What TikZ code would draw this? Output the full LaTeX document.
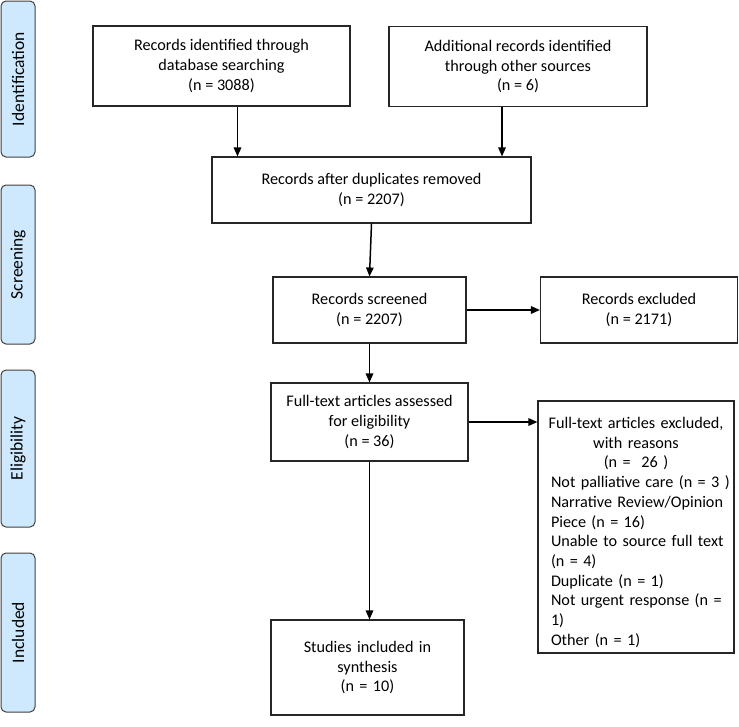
\documentclass[tikz,border=0pt]{standalone}
\usepackage{fontspec}
\setmainfont{Carlito}
\usetikzlibrary{arrows.meta}
\definecolor{sideblue}{RGB}{206,233,253}
\newcommand{\cenline}[1]{\makebox[\linewidth][c]{#1}}
\newcommand{\lefline}[1]{\makebox[\linewidth][l]{#1}}
\begin{document}
\begin{tikzpicture}[x=1pt,y=-1pt,
 box/.style={draw=black!85, line width=1.1pt, fill=white, align=center, font=\fontsize{16.2}{19.7}\selectfont, inner sep=0pt},
 side/.style={draw=black!75, line width=1pt, fill=sideblue, rounded corners=5pt, rotate=90, font=\fontsize{17.5}{20}\selectfont, inner sep=0pt},
 arr/.style={line width=1.5pt, -{Triangle[length=9pt,width=7.5pt]}}]
\useasboundingbox (0,0) rectangle (739,726);
% side labels
\node[side, minimum width=156pt, minimum height=34pt] (s1) at (18,79) {Identification};
\node[side, minimum width=159pt, minimum height=34pt] (s2) at (18,264.5) {Screening};
\node[side, minimum width=157pt, minimum height=34pt] (s3) at (18,448.5) {Eligibility};
\node[side, minimum width=159pt, minimum height=34pt] (s4) at (18,632.5) {Included};
% boxes
\node[box, minimum width=257pt, minimum height=80pt] (b1) at (221.5,66) {Records identified through\\database searching\\(n = 3088)};
\node[box, minimum width=258pt, minimum height=80pt] (b2) at (518,66.5) {Additional records identified\\through other sources\\(n = 6)};
\node[box, minimum width=319pt, minimum height=66pt] (b3) at (371.5,190) {Records after duplicates removed\\(n = 2207)};
\node[box, minimum width=193pt, minimum height=66pt] (b4) at (369.5,310) {Records screened\\(n = 2207)};
\node[box, minimum width=197pt, minimum height=66pt] (b5) at (639,310) {Records excluded\\(n = 2171)};
\node[box, minimum width=197pt, minimum height=78pt] (b6) at (369.5,422) {Full-text articles assessed\\for eligibility\\(n = 36)};
\node[box, minimum width=196pt, minimum height=252pt, text width=170pt, align=left] (b7) at (636,527) {\cenline{\rule{0pt}{22pt}Full-text articles excluded,}\\\cenline{with reasons}\\\cenline{(n =\ \ 26 )}\\\lefline{Not palliative care (n = 3 )}\\\lefline{Narrative Review/Opinion}\\\lefline{Piece (n = 16)}\\\lefline{Unable to source full text}\\\lefline{(n = 4)}\\\lefline{Duplicate (n = 1)}\\\lefline{Not urgent response (n =}\\\lefline{1)}\\\lefline{Other (n = 1)}};
\node[box, minimum width=193pt, minimum height=95pt, text width=180pt, align=center] (b8) at (367.5,667.5) {Studies included in\\synthesis\\(n = 10)\par\vspace{8pt}};
% arrows
\draw[arr] ([xshift=16pt]b1.south) -- ([xshift=16pt]b1.south |- b3.north);
\draw[arr] ([xshift=-16pt]b2.south) -- ([xshift=-16pt]b2.south |- b3.north);
\draw[arr] (b3.south) -- (b4.north);
\draw[arr] (b4.east) -- (b5.west);
\draw[arr] (b4.south) -- (b6.north);
\draw[arr] (b6.east) -- (b6.east -| b7.west);
\draw[arr] (b6.south) -- (b6.south |- b8.north);
\end{tikzpicture}
\end{document}
